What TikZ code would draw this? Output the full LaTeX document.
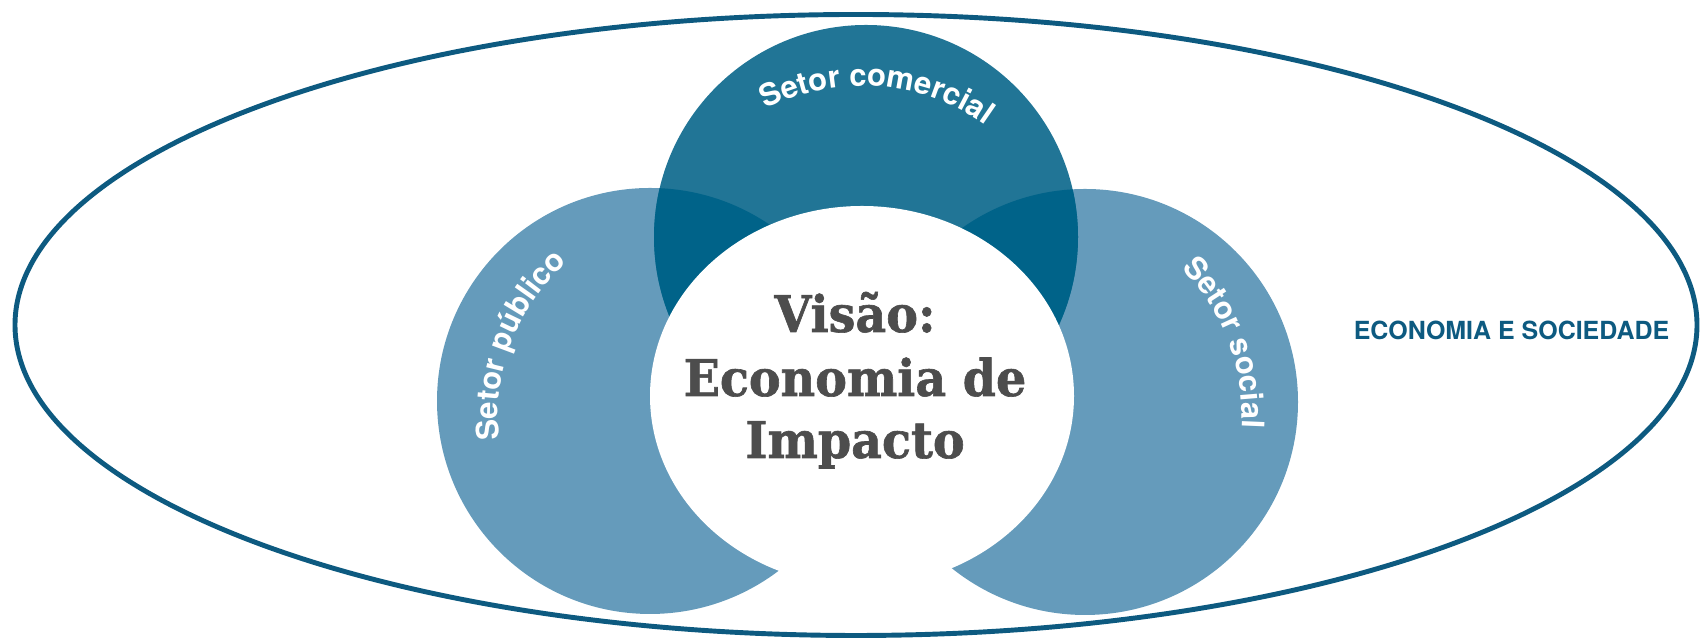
\documentclass[tikz,border=0pt]{standalone}
\usepackage{fontspec}
\usepackage{xcolor}
\usetikzlibrary{decorations.text}

\newfontfamily\slabfont{DejaVu Serif}[FakeStretch=0.94, BoldFeatures={FakeBold=1.2}]
\newfontfamily\labelfont{TeX Gyre Heros}
\newcommand\arcfont{\labelfont\bfseries\fontsize{8.8}{10}\selectfont}

\definecolor{ringblue}{HTML}{0D5A80}
\definecolor{comblue}{HTML}{217596}
\definecolor{lightblue}{HTML}{659BBB}
\definecolor{overlapblue}{HTML}{006389}
\definecolor{titlegray}{HTML}{4D4D4D}

\begin{document}
\begin{tikzpicture}[
	arclabel/.style={decorate, decoration={text along path, text align=center, text color=white, text={|\arcfont|#1}}},
	titleline/.style={anchor=base, inner sep=0pt, text=titlegray, font=\slabfont\bfseries\fontsize{14.4}{17}\selectfont},
	societylabel/.style={anchor=base, inner sep=0pt, text=ringblue, font=\labelfont\bfseries\fontsize{7.1}{8}\selectfont}
]
	\useasboundingbox (0,0) rectangle (17,6.39);

	\draw[ringblue, line width=1.4pt] (8.56,3.14) ellipse[x radius=8.41, y radius=3.105];

	\fill[lightblue] (6.50,2.38) circle (2.13);
	\fill[lightblue] (10.85,2.37) circle (2.13);
	\fill[comblue] (8.66,4.02) circle (2.12);
	\begin{scope}
		\clip (8.66,4.02) circle (2.12);
		\fill[overlapblue] (6.50,2.38) circle (2.13);
		\fill[overlapblue] (10.85,2.37) circle (2.13);
	\end{scope}
	\fill[white] (8.62,2.43) ellipse[x radius=2.12, y radius=1.90];

	\path[arclabel={Setor comercial}] (8.62,3.41) ++(145.7:2.12) arc[start angle=145.7, end angle=25.7, radius=2.12];
	\path[arclabel={Setor público}] (7.00,2.24) ++(219:2.02) arc[start angle=219, end angle=99, radius=2.02];
	\path[arclabel={Setor social}] (10.34,2.24) ++(80.6:2.08) arc[start angle=80.6, end angle=-39.4, radius=2.08];

	\node[titleline] (visao) at (8.55,3.07) {Visão:};
	\node[titleline] (economia) at (8.55,2.43) {Economia de};
	\node[titleline] (impacto) at (8.55,1.81) {Impacto};

	\node[societylabel] (sociedade) at (15.115,2.99) {ECONOMIA E SOCIEDADE};
\end{tikzpicture}
\end{document}
